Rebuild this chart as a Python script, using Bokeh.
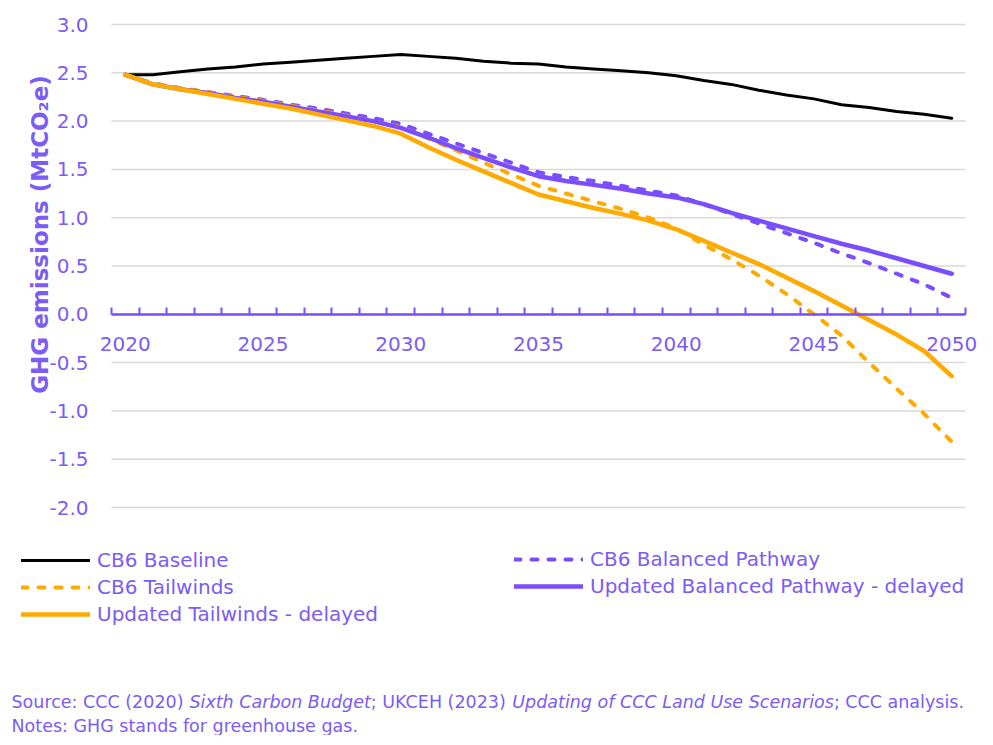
import math
from bokeh.plotting import figure
from bokeh.models import (Range1d, LinearAxis, FixedTicker, Legend, LegendItem,
                          Label, NumeralTickFormatter)
from bokeh.embed import file_html
from bokeh.resources import INLINE

# ---------------- data ----------------
years = list(range(2020, 2051))
cb6_baseline = [2.48, 2.48, 2.51, 2.54, 2.56, 2.59, 2.61, 2.63, 2.65, 2.67, 2.69,
                2.67, 2.65, 2.62, 2.60, 2.59, 2.56, 2.54, 2.52, 2.50, 2.47,
                2.42, 2.38, 2.32, 2.27, 2.23, 2.17, 2.14, 2.10, 2.07, 2.03]
cb6_balanced = [2.48, 2.39, 2.34, 2.30, 2.26, 2.22, 2.17, 2.13, 2.08, 2.03, 1.97,
                1.87, 1.77, 1.67, 1.57, 1.47, 1.42, 1.38, 1.33, 1.28, 1.23,
                1.14, 1.04, 0.94, 0.84, 0.74, 0.63, 0.53, 0.42, 0.31, 0.17]
cb6_tailwinds = [2.48, 2.39, 2.34, 2.30, 2.25, 2.21, 2.16, 2.11, 2.06, 2.00, 1.94,
                 1.82, 1.70, 1.57, 1.45, 1.33, 1.25, 1.17, 1.09, 1.00, 0.89,
                 0.72, 0.57, 0.40, 0.21, 0.00, -0.22, -0.50, -0.77, -1.03, -1.32]
upd_balanced = [2.48, 2.38, 2.33, 2.29, 2.24, 2.20, 2.15, 2.10, 2.05, 2.00, 1.93,
                1.83, 1.72, 1.62, 1.52, 1.43, 1.38, 1.34, 1.30, 1.25, 1.21,
                1.14, 1.05, 0.97, 0.89, 0.81, 0.73, 0.66, 0.58, 0.50, 0.42]
upd_tailwinds = [2.48, 2.38, 2.33, 2.28, 2.23, 2.18, 2.13, 2.07, 2.01, 1.95, 1.87,
                 1.73, 1.60, 1.48, 1.36, 1.24, 1.17, 1.10, 1.04, 0.97, 0.88,
                 0.76, 0.64, 0.52, 0.38, 0.24, 0.09, -0.06, -0.21, -0.38, -0.64]
y_ticks = [-2.0, -1.5, -1.0, -0.5, 0.0, 0.5, 1.0, 1.5, 2.0, 2.5, 3.0]
x_label_years = [2020, 2025, 2030, 2035, 2040, 2045, 2050]
series_labels = ["CB6 Baseline", "CB6 Balanced Pathway", "CB6 Tailwinds",
                 "Updated Balanced Pathway - delayed", "Updated Tailwinds - delayed"]
y_title = "GHG emissions (MtCO\u2082e)"
source_parts = [("Source: CCC (2020) ", "normal"),
                ("Sixth Carbon Budget", "italic"),
                ("; UKCEH (2023) ", "normal"),
                ("Updating of CCC Land Use Scenarios", "italic"),
                ("; CCC analysis.", "normal")]
notes_text = "Notes: GHG stands for greenhouse gas."

# ---------------- layout (canvas pixels) ----------------
W, H = 977, 735
L, R, T, B = 111, 965, 24, 507          # plotting area inside the canvas
x_lo, x_hi = years[0] - 0.5, years[-1] + 0.5
y_lo, y_hi = y_ticks[0], y_ticks[-1]
ppx = (R - L) / (x_hi - x_lo)
ppy = (B - T) / (y_hi - y_lo)

PURPLE = "#7A4DFF"
TEXT = "#7B5CF5"
ORANGE = "#FFAA00"
GRID = "#D9D9D9"
FONT = "DejaVu Sans"
DASH = "6 11"

# approximate DejaVu Sans advance widths (units of 1/2048 em) to chain footnote pieces
_DV = {" ": 651, ":": 690, ";": 690, ".": 651, "(": 799, ")": 799, "-": 739,
       "0": 1303, "2": 1303, "3": 1303,
       "B": 1405, "C": 1430, "E": 1294, "H": 1540, "K": 1343, "L": 1141,
       "S": 1300, "U": 1499,
       "a": 1255, "b": 1300, "c": 1126, "d": 1300, "e": 1260, "f": 721,
       "g": 1300, "h": 1298, "i": 569, "l": 569, "n": 1298, "o": 1253,
       "p": 1300, "r": 842, "s": 1067, "t": 803, "u": 1298, "x": 1212, "y": 1212}


def text_w(s, size):
    return sum(_DV.get(c, 1200) for c in s) / 2048.0 * size


p = figure(width=W, height=H, output_backend="svg", toolbar_location=None,
           x_range=Range1d(x_lo - L / ppx, x_hi + (W - R) / ppx),
           y_range=Range1d(y_lo - (H - B) / ppy, y_hi + T / ppy),
           x_axis_location=None, y_axis_location=None,
           min_border=0)
p.outline_line_color = None
p.background_fill_color = "white"
p.border_fill_color = "white"
p.grid.visible = False

# horizontal gridlines limited to the category span
p.segment(x0=[x_lo] * len(y_ticks), x1=[x_hi] * len(y_ticks), y0=y_ticks, y1=y_ticks,
          line_color=GRID, line_width=1.5)

# y axis (labels only)
yaxis = LinearAxis(fixed_location=x_lo, bounds=(y_lo, y_hi),
                   ticker=FixedTicker(ticks=y_ticks),
                   formatter=NumeralTickFormatter(format="0.0"),
                   axis_line_color=None, major_tick_line_color=None,
                   minor_tick_line_color=None, major_tick_in=0, major_tick_out=0,
                   major_label_standoff=23, major_label_text_font=FONT,
                   major_label_text_font_size="20px", major_label_text_color=TEXT)
p.add_layout(yaxis, "left")

# lines
r_base = p.line(years, cb6_baseline, line_color="black", line_width=3,
                line_join="round", line_cap="round")
r_bal = p.line(years, cb6_balanced, line_color=PURPLE, line_width=4,
               line_dash=DASH, line_join="round", line_cap="round")
r_tail = p.line(years, cb6_tailwinds, line_color=ORANGE, line_width=4,
                line_dash=DASH, line_join="round", line_cap="round")
r_ubal = p.line(years, upd_balanced, line_color=PURPLE, line_width=4.5,
                line_join="round", line_cap="round")
r_utail = p.line(years, upd_tailwinds, line_color=ORANGE, line_width=4.5,
                 line_join="round", line_cap="round")

# x axis at y = 0 : tick marks between categories, labels every 5 years
cat_edges = [y - 0.5 for y in years] + [years[-1] + 0.5]
xaxis = LinearAxis(fixed_location=0, bounds=(x_lo, x_hi),
                   ticker=FixedTicker(ticks=x_label_years, minor_ticks=cat_edges),
                   axis_line_color=PURPLE, axis_line_width=2.5,
                   major_tick_line_color=None, major_tick_in=0, major_tick_out=0,
                   minor_tick_line_color=PURPLE, minor_tick_line_width=2,
                   minor_tick_in=7, minor_tick_out=0,
                   major_label_standoff=23, major_label_text_font=FONT,
                   major_label_text_font_size="20px", major_label_text_color=TEXT)
p.add_layout(xaxis, "below")

# legends
common = dict(glyph_width=69, glyph_height=20, label_height=20, label_standoff=7,
              spacing=3, padding=0, margin=0, border_line_color=None,
              background_fill_alpha=0, label_text_font=FONT,
              label_text_font_size="20px", label_text_color=TEXT)
leg1 = Legend(items=[LegendItem(label=series_labels[0], renderers=[r_base]),
                     LegendItem(label=series_labels[2], renderers=[r_tail]),
                     LegendItem(label=series_labels[4], renderers=[r_utail])],
              location=(21, H - 626), **common)
leg2 = Legend(items=[LegendItem(label=series_labels[1], renderers=[r_bal]),
                     LegendItem(label=series_labels[3], renderers=[r_ubal])],
              location=(514, H - 598), **common)
p.add_layout(leg1)
p.add_layout(leg2)

# y title
p.add_layout(Label(x=39, y=H - 234, x_units="screen", y_units="screen", text=y_title,
                   angle=math.pi / 2, text_align="center", text_baseline="middle",
                   text_font=FONT, text_font_style="bold", text_font_size="23px",
                   text_color=TEXT))

# footnotes: pieces chained one after another
FS = 17.5
px = 11.0
for txt, style in source_parts:
    p.add_layout(Label(x=px, y=H - 701, x_units="screen", y_units="screen",
                       text=txt, text_font=FONT, text_font_style=style,
                       text_font_size=f"{FS}px", text_color=TEXT,
                       text_baseline="alphabetic"))
    px += text_w(txt, FS)
p.add_layout(Label(x=11, y=H - 725, x_units="screen", y_units="screen",
                   text=notes_text, text_font=FONT, text_font_size=f"{FS}px",
                   text_color=TEXT, text_baseline="alphabetic"))

open("out.html", "w").write(file_html(p, INLINE))
